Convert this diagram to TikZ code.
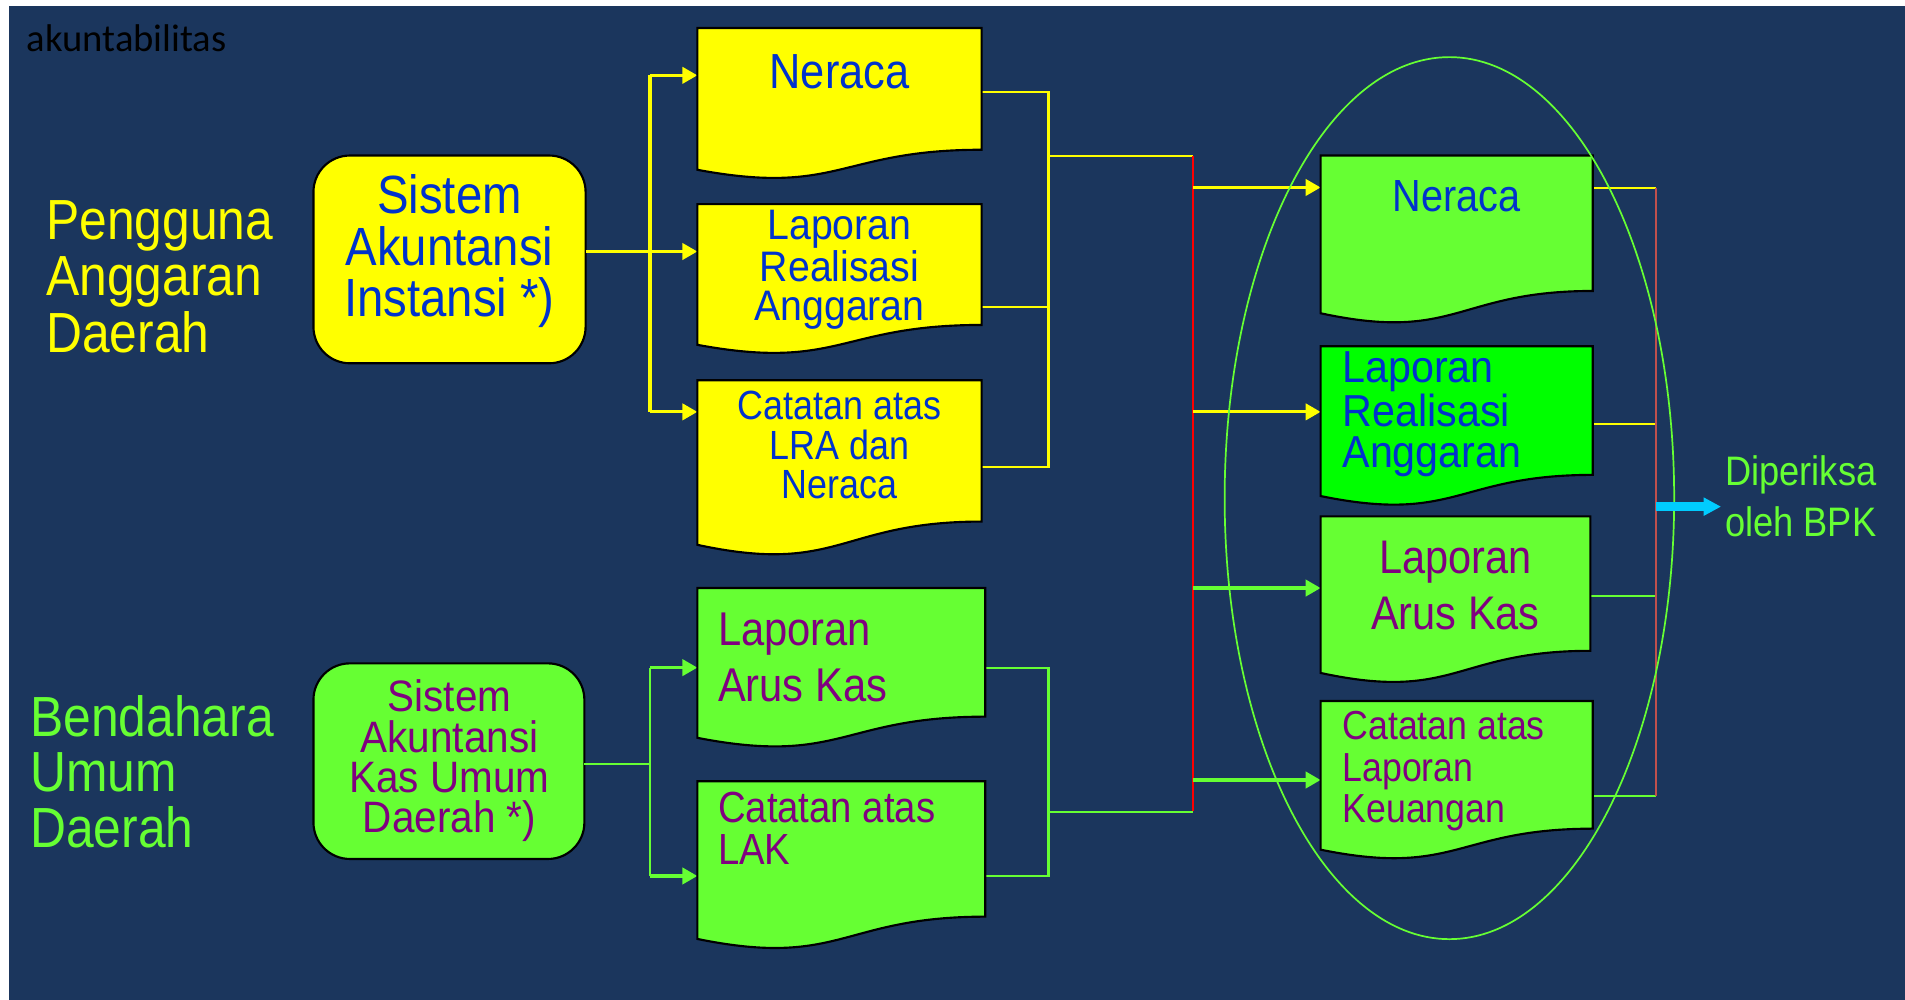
\documentclass[tikz,border=0pt]{standalone}
\usepackage{fontspec}
\usetikzlibrary{arrows.meta,calc,fit}
\newfontfamily\narrowsans[FakeStretch=0.88]{Liberation Sans}
\newfontfamily\semisans[FakeStretch=0.92]{Liberation Sans}
\newfontfamily\titlesans{Carlito}
\newcommand\fsz[2]{\narrowsans\fontsize{#1}{#2}\selectfont}
\newcommand\fszw[2]{\semisans\fontsize{#1}{#2}\selectfont}
\newcommand\ctrlines[1]{\vtop{\halign{\hfil##\hfil\cr#1\crcr}}}
\newcommand\leftlines[1]{\vtop{\halign{##\hfil\cr#1\crcr}}}

\definecolor{navybg}{HTML}{1B365D}
\definecolor{docyellow}{HTML}{FFFF00}
\definecolor{limegreen}{HTML}{66FF33}
\definecolor{puregreen}{HTML}{00FF00}
\definecolor{textblue}{HTML}{0033CC}
\definecolor{textpurple}{HTML}{800080}
\definecolor{busred}{HTML}{FF0000}
\definecolor{outred}{HTML}{C0504D}
\definecolor{bpkcyan}{HTML}{00CCFF}

% document symbol with a wavy lower edge, drawn over a fitted node
\newcommand\docwave[2]{%
  \path[docline, fill=#2] (#1.north west) -- (#1.north east)
    -- ($(#1.north east)!0.802!(#1.south east)$)
    .. controls ($(#1.north)!0.802!(#1.south)$) and ($(#1.north)!1.108!(#1.south)$)
    .. ($(#1.north west)!0.934!(#1.south west)$) -- cycle;}

\begin{document}
\begin{tikzpicture}[x=0.02cm,y=-0.02cm,
  txt/.style={inner sep=0pt, outer sep=0pt, anchor=base},
  txtl/.style={inner sep=0pt, outer sep=0pt, anchor=base west},
  doc/.style={inner sep=0pt, outer sep=0pt},
  docline/.style={draw=black, line width=1pt},
  sysbox/.style={draw=black, line width=1pt, rounded corners=0.6cm, inner sep=0pt, outer sep=0pt},
  ywire/.style={draw=docyellow, line width=1pt},
  gwire/.style={draw=limegreen, line width=1pt},
  yarrow/.style={draw=docyellow, line width=1.5pt, -{Triangle[length=7pt,width=7.6pt]}},
  garrow/.style={draw=limegreen, line width=1.5pt, -{Triangle[length=7pt,width=7.6pt]}},
]
% canvas
\path[fill=white] (0,0) rectangle (1568,823);
\path[fill=navybg] (7.4,5) rectangle (1568,823);

\node[txtl, font=\titlesans\fontsize{18.1pt}{20pt}\selectfont, text=black] (title) at (22,42) {akuntabilitas};

% side labels
\node[txtl, font=\fsz{26.5pt}{26.4pt}, text=docyellow] (pa) at (38,197) {\leftlines{Pengguna\cr Anggaran\cr Daerah}};
\node[txtl, font=\fsz{26.5pt}{26.1pt}, text=limegreen] (bud) at (25,606) {\leftlines{Bendahara\cr Umum\cr Daerah}};

% accounting systems
\node[sysbox, fill=docyellow, fit={(258,128) (482,299)}] (sai) {};
\node[txt, font=\fsz{25.2pt}{24.1pt}, text=textblue] (saitext) at (370,176) {\ctrlines{Sistem\cr Akuntansi\cr Instansi *)}};
\node[sysbox, fill=limegreen, fit={(258,546) (481,707)}] (sakud) {};
\node[txt, font=\fszw{20.6pt}{18.8pt}, text=textpurple] (sakudtext) at (370,586) {\ctrlines{Sistem\cr Akuntansi\cr Kas Umum\cr Daerah *)}};

% document frames
\node[doc, fit={(574,23) (808,148)}] (yN) {};
\node[doc, fit={(574,168) (808,292)}] (yL) {};
\node[doc, fit={(574,313) (808,458)}] (yC) {};
\node[doc, fit={(574,484) (811,616)}] (gA) {};
\node[doc, fit={(574,643) (811,782)}] (gC) {};
\node[doc, fit={(1087,128) (1311,267)}] (rN) {};
\node[doc, fit={(1087,285) (1311,417)}] (rL) {};
\node[doc, fit={(1087,425) (1309,563)}] (rA) {};
\node[doc, fit={(1087,577) (1311,708)}] (rC) {};

% junction points
\coordinate (ya1) at (535,62);
\coordinate (ya2) at (535,207);
\coordinate (ya3) at (535,339);
\coordinate (yo1) at (863,75.5);
\coordinate (yo2) at (863,253);
\coordinate (yo3) at (863,384.6);
\coordinate (yj) at (863,128.5);
\coordinate (rtop) at (982,128.5);
\coordinate (rbot) at (982,667.5);
\coordinate (ga1) at (535,549.5);
\coordinate (ga2) at (535,629);
\coordinate (ga3) at (535,721);
\coordinate (go1) at (863,549.5);
\coordinate (go3) at (863,721);
\coordinate (gj) at (863,668);
\coordinate (ra1) at (982,154.3);
\coordinate (ra2) at (982,339);
\coordinate (ra3) at (982,484);
\coordinate (ra4) at (982,642);
\coordinate (ro1) at (1363,154.5);
\coordinate (ro2) at (1363,349);
\coordinate (ro3) at (1363,490.5);
\coordinate (ro4) at (1363,655);
\coordinate (cy) at (1363,417);

% yellow branch
\draw[yarrow, -] (sai.east |- ya2) -- (ya2);
\draw[yarrow, -] (ya1) -- (ya3);
\draw[yarrow] (ya1) -- (yN.west |- ya1);
\draw[yarrow] (ya2) -- (yL.west |- ya2);
\draw[yarrow] (ya3) -- (yC.west |- ya3);
\draw[ywire] (yN.east |- yo1) -- (yo1) -- (yo3) -- (yC.east |- yo3);
\draw[ywire] (yL.east |- yo2) -- (yo2);
\draw[ywire] (yj) -- (rtop);

% green branch
\draw[gwire] (sakud.east |- ga2) -- (ga2);
\draw[gwire] (ga1) -- (ga3);
\draw[garrow] (ga1) -- (gA.west |- ga1);
\draw[garrow] (ga3) -- (gC.west |- ga3);
\draw[gwire] (gA.east |- go1) -- (go1) -- (go3) -- (gC.east |- go3);
\draw[gwire] (gj) -- (gj -| rbot);

% collecting bus
\draw[draw=busred, line width=0.8pt] (rtop) -- (rbot);
\draw[yarrow] (ra1) -- (rN.west |- ra1);
\draw[yarrow] (ra2) -- (rL.west |- ra2);
\draw[garrow] (ra3) -- (rA.west |- ra3);
\draw[garrow] (ra4) -- (rC.west |- ra4);

% outputs to the audit
\draw[ywire] (rN.east |- ro1) -- (ro1);
\draw[ywire] (rL.east |- ro2) -- (ro2);
\draw[gwire] (rA.east |- ro3) -- (ro3);
\draw[gwire] (rC.east |- ro4) -- (ro4);
\draw[draw=outred, line width=0.8pt] (ro1) -- (ro4);

% documents
\docwave{yN}{docyellow}
\docwave{yL}{docyellow}
\docwave{yC}{docyellow}
\docwave{gA}{limegreen}
\docwave{gC}{limegreen}
\docwave{rN}{limegreen}
\docwave{rL}{puregreen}
\docwave{rA}{limegreen}
\docwave{rC}{limegreen}

% document captions
\node[txt, font=\fsz{23.1pt}{24pt}, text=textblue] (yNt) at (691,73) {Neraca};
\node[txt, font=\fszw{20pt}{18.2pt}, text=textblue] (yLt) at (691,197) {\ctrlines{Laporan\cr Realisasi\cr Anggaran}};
\node[txt, font=\fsz{19.1pt}{18.7pt}, text=textblue] (yCt) at (691,345) {\ctrlines{Catatan atas\cr LRA dan\cr Neraca}};
\node[txtl, font=\fsz{22.2pt}{26.6pt}, text=textpurple] (gAt) at (591,531) {\leftlines{Laporan\cr Arus Kas}};
\node[txtl, font=\fsz{20.4pt}{19.8pt}, text=textpurple] (gCt) at (591,677) {\leftlines{Catatan atas\cr LAK}};
\node[txt, font=\fsz{21.1pt}{22pt}, text=textblue] (rNt) at (1199,174) {Neraca};
\node[txtl, font=\fszw{21pt}{19.2pt}, text=textblue] (rLt) at (1105,315) {\leftlines{Laporan\cr Realisasi\cr Anggaran}};
\node[txt, font=\fsz{22.1pt}{26.1pt}, text=textpurple] (rAt) at (1198,472) {\ctrlines{Laporan\cr Arus Kas}};
\node[txtl, font=\fsz{19pt}{19.3pt}, text=textpurple] (rCt) at (1105,609) {\leftlines{Catatan atas\cr Laporan\cr Keuangan}};

% grouping of the consolidated statements
\draw[draw=limegreen, line width=0.8pt] (1193,410) ellipse [x radius=185, y radius=363];

% audit
\coordinate (cytip) at (1416.6,417);
\draw[draw=bpkcyan, line width=4.2pt, -{Triangle[length=8.2pt,width=8.1pt]}] (cy) -- (cytip);
\node[txtl, font=\fsz{19.3pt}{23.8pt}, text=limegreen] (bpk) at (1420,400) {\leftlines{Diperiksa\cr oleh BPK}};
\end{tikzpicture}
\end{document}
